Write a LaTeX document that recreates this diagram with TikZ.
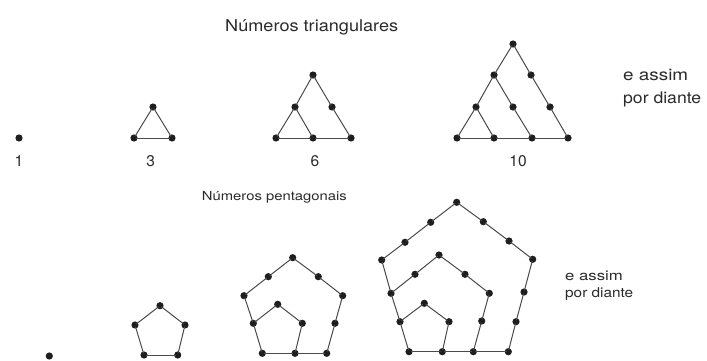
\documentclass[tikz,border=0pt]{standalone}
\usepackage{fontspec}
\setmainfont{TeX Gyre Heros}
\usepackage{graphicx}
\definecolor{dotc}{HTML}{1E1E1E}
\definecolor{linec}{HTML}{4A4A4A}
\definecolor{txtc}{HTML}{2A2A2A}
\tikzset{
  dot/.style={circle,fill=dotc,inner sep=0pt,minimum size=7.2pt},
  edge/.style={draw=linec,line width=1pt,shorten <=-2pt,shorten >=-2pt},
  txt/.style={anchor=base west,inner sep=0pt,text=txtc},
  num/.style={anchor=base,inner sep=0pt,text=txtc,font=\fontsize{15.5}{18}\selectfont},
}
\begin{document}
\begin{tikzpicture}[x=1pt,y=-1pt]
\useasboundingbox (0,0) rectangle (707,361);
% ---------- titles and texts ----------
\node[txt,font=\fontsize{16.3}{19}\selectfont] (tt) at (225,32) {\resizebox{173pt}{\height}{Números triangulares}};
\node[txt,font=\fontsize{16}{19}\selectfont] (ta1) at (623,80.7) {\resizebox{65pt}{\height}{e assim}};
\node[txt,font=\fontsize{16}{19}\selectfont] (ta2) at (623,103.3) {\resizebox{78pt}{\height}{por diante}};
\node[txt,font=\fontsize{12.5}{15}\selectfont] (pt) at (201.7,200.7) {\resizebox{145pt}{\height}{Números pentagonais}};
\node[txt,font=\fontsize{13.5}{16}\selectfont] (pa1) at (565,280.7) {\resizebox{57.7pt}{\height}{e assim}};
\node[txt,font=\fontsize{13.5}{16}\selectfont] (pa2) at (565,297.3) {\resizebox{68pt}{\height}{por diante}};
% ---------- triangular numbers ----------
\node[num] (n1) at (19,166.7) {1};
\node[num] (n3) at (150.7,166.7) {3};
\node[num] (n6) at (315,166.7) {6};
\node[num] (n10) at (518,166.7) {10};
% T1
\node[dot] (ta) at (19,138) {};
% T3
\node[dot] (tb1) at (153,107) {};
\node[dot] (tb2) at (134,138) {};
\node[dot] (tb3) at (172,138) {};
\draw[edge] (tb1) -- (tb2);
\draw[edge] (tb2) -- (tb3);
\draw[edge] (tb3) -- (tb1);
% T6
\node[dot] (tc1) at (313,75) {};
\node[dot] (tc2) at (295,107) {};
\node[dot] (tc3) at (332,107) {};
\node[dot] (tc4) at (276,138) {};
\node[dot] (tc5) at (313,138) {};
\node[dot] (tc6) at (351,138) {};
\draw[edge] (tc1) -- (tc2);
\draw[edge] (tc2) -- (tc4);
\draw[edge] (tc4) -- (tc5);
\draw[edge] (tc5) -- (tc6);
\draw[edge] (tc6) -- (tc3);
\draw[edge] (tc3) -- (tc1);
\draw[edge] (tc2) -- (tc5);
% T10
\node[dot] (td1) at (513,44) {};
\node[dot] (td2) at (494,75) {};
\node[dot] (td3) at (531,75) {};
\node[dot] (td4) at (476,107) {};
\node[dot] (td5) at (513,107) {};
\node[dot] (td6) at (550,107) {};
\node[dot] (td7) at (457,138) {};
\node[dot] (td8) at (494,138) {};
\node[dot] (td9) at (532,138) {};
\node[dot] (td10) at (568,138) {};
\draw[edge] (td1) -- (td2);
\draw[edge] (td2) -- (td4);
\draw[edge] (td4) -- (td7);
\draw[edge] (td7) -- (td8);
\draw[edge] (td8) -- (td9);
\draw[edge] (td9) -- (td10);
\draw[edge] (td10) -- (td6);
\draw[edge] (td6) -- (td3);
\draw[edge] (td3) -- (td1);
\draw[edge] (td2) -- (td5);
\draw[edge] (td5) -- (td9);
\draw[edge] (td4) -- (td8);
% ---------- pentagonal numbers ----------
% P1
\node[dot] (pa) at (49.3,356) {};
% P5
\node[dot] (pb1) at (160,305.7) {};
\node[dot] (pb2) at (185,325) {};
\node[dot] (pb3) at (177.7,355) {};
\node[dot] (pb4) at (144,355) {};
\node[dot] (pb5) at (135,325) {};
\draw[edge] (pb1) -- (pb2);
\draw[edge] (pb2) -- (pb3);
\draw[edge] (pb3) -- (pb4);
\draw[edge] (pb4) -- (pb5);
\draw[edge] (pb5) -- (pb1);
% P12
\node[dot] (pc1) at (292.7,257.7) {};
\node[dot] (pc2) at (318.3,276.7) {};
\node[dot] (pc3) at (342.7,295.7) {};
\node[dot] (pc4) at (335,323.3) {};
\node[dot] (pc5) at (326.7,353.3) {};
\node[dot] (pc6) at (295,353.3) {};
\node[dot] (pc7) at (262.3,353.3) {};
\node[dot] (pc8) at (253.3,323.3) {};
\node[dot] (pc9) at (244,295.7) {};
\node[dot] (pc10) at (268.3,276.7) {};
\node[dot] (pc11) at (277.7,304.3) {};
\node[dot] (pc12) at (302.3,323.3) {};
\draw[edge] (pc1) -- (pc2);
\draw[edge] (pc2) -- (pc3);
\draw[edge] (pc3) -- (pc4);
\draw[edge] (pc4) -- (pc5);
\draw[edge] (pc5) -- (pc6);
\draw[edge] (pc6) -- (pc7);
\draw[edge] (pc7) -- (pc8);
\draw[edge] (pc8) -- (pc9);
\draw[edge] (pc9) -- (pc10);
\draw[edge] (pc10) -- (pc1);
\draw[edge] (pc8) -- (pc11);
\draw[edge] (pc11) -- (pc12);
\draw[edge] (pc12) -- (pc6);
% P22
\node[dot] (pd1) at (456.7,202.3) {};
\node[dot] (pd2) at (483.3,221.7) {};
\node[dot] (pd3) at (509,241) {};
\node[dot] (pd4) at (532.7,259.3) {};
\node[dot] (pd5) at (524,292) {};
\node[dot] (pd6) at (516,321.7) {};
\node[dot] (pd7) at (508.3,351.7) {};
\node[dot] (pd8) at (473.3,351.7) {};
\node[dot] (pd9) at (442.3,351.7) {};
\node[dot] (pd10) at (409,351.7) {};
\node[dot] (pd11) at (400,321.7) {};
\node[dot] (pd12) at (391,293.3) {};
\node[dot] (pd13) at (381.7,260) {};
\node[dot] (pd14) at (405,242.3) {};
\node[dot] (pd15) at (430.7,222.3) {};
\node[dot] (pd16) at (415,274.3) {};
\node[dot] (pd17) at (439,255) {};
\node[dot] (pd18) at (465,274.3) {};
\node[dot] (pd19) at (489.3,293.3) {};
\node[dot] (pd20) at (481.7,321) {};
\node[dot] (pd21) at (424.3,303.3) {};
\node[dot] (pd22) at (449,321.7) {};
\draw[edge] (pd1) -- (pd2);
\draw[edge] (pd2) -- (pd3);
\draw[edge] (pd3) -- (pd4);
\draw[edge] (pd4) -- (pd5);
\draw[edge] (pd5) -- (pd6);
\draw[edge] (pd6) -- (pd7);
\draw[edge] (pd7) -- (pd8);
\draw[edge] (pd8) -- (pd9);
\draw[edge] (pd9) -- (pd10);
\draw[edge] (pd10) -- (pd11);
\draw[edge] (pd11) -- (pd12);
\draw[edge] (pd12) -- (pd13);
\draw[edge] (pd13) -- (pd14);
\draw[edge] (pd14) -- (pd15);
\draw[edge] (pd15) -- (pd1);
\draw[edge] (pd12) -- (pd16);
\draw[edge] (pd16) -- (pd17);
\draw[edge] (pd17) -- (pd18);
\draw[edge] (pd18) -- (pd19);
\draw[edge] (pd19) -- (pd20);
\draw[edge] (pd20) -- (pd8);
\draw[edge] (pd11) -- (pd21);
\draw[edge] (pd21) -- (pd22);
\draw[edge] (pd22) -- (pd9);
\end{tikzpicture}
\end{document}
